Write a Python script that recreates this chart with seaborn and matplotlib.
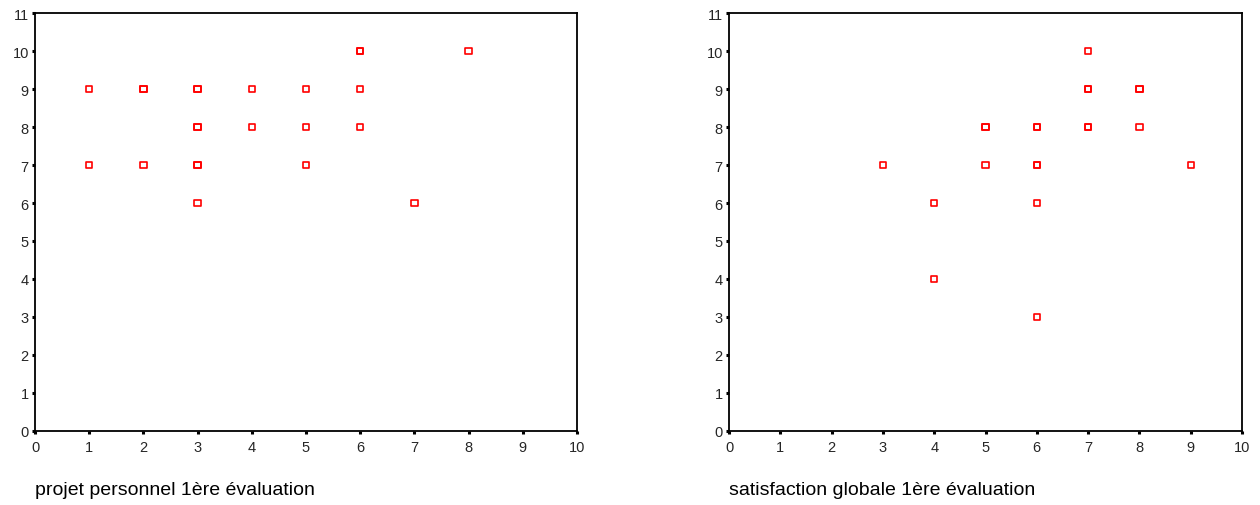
import pandas as pd
import seaborn as sns
import matplotlib.pyplot as plt

# projet personnel 1ère évaluation (x) vs score (y)
projetX = [1, 1, 2, 2, 2, 3, 3, 3, 3, 3, 3, 3, 4, 4, 5, 5, 5, 6, 6, 6, 6, 7, 8]
projetY = [9, 7, 9, 9, 7, 9, 9, 8, 8, 7, 7, 6, 9, 8, 9, 8, 7, 10, 10, 9, 8, 6, 10]

# satisfaction globale 1ère évaluation (x) vs score (y)
satisfX = [3, 4, 4, 5, 5, 5, 6, 6, 6, 6, 6, 6, 7, 7, 7, 7, 7, 8, 8, 8, 9]
satisfY = [7, 6, 4, 8, 8, 7, 8, 8, 7, 7, 6, 3, 10, 9, 9, 8, 8, 9, 9, 8, 7]

xLabels = ["projet personnel 1ère évaluation", "satisfaction globale 1ère évaluation"]
xTicks = list(range(0, 11))
yTicks = list(range(0, 12))

sns.set_theme(style="white")
plt.rcParams['font.family'] = ['Liberation Sans', 'DejaVu Sans']

fig = plt.figure(figsize=(12.6, 5.06), dpi=100)
axLeft = fig.add_axes([35 / 1260, 1 - 432 / 506, 542 / 1260, 418 / 506])
axRight = fig.add_axes([729 / 1260, 1 - 432 / 506, 513 / 1260, 418 / 506])

panels = [(axLeft, projetX, projetY, xLabels[0]), (axRight, satisfX, satisfY, xLabels[1])]
for ax, xs, ys, label in panels:
    df = pd.DataFrame({"x": xs, "y": ys})
    sns.scatterplot(data=df, x="x", y="y", ax=ax, marker="s", s=20,
                    facecolor="none", edgecolor="#ff0000", linewidth=1.2)
    ax.set_xlim(0, 10)
    ax.set_ylim(0, 11)
    ax.set_xticks(xTicks)
    ax.set_yticks(yTicks)
    ax.tick_params(axis="both", direction="out", length=2.5, width=2.2,
                   color="black", labelsize=10.5, bottom=True, left=True)
    ax.tick_params(axis="x", pad=4)
    ax.tick_params(axis="y", pad=2)
    for spine in ax.spines.values():
        spine.set_visible(True)
        spine.set_color("black")
        spine.set_linewidth(1.3)
    ax.set_xlabel("")
    ax.set_ylabel("")
    ax.text(0, -0.141, label, transform=ax.transAxes, ha="left", va="center",
            fontsize=14, color="black")

fig.savefig("out.png", dpi=100)
